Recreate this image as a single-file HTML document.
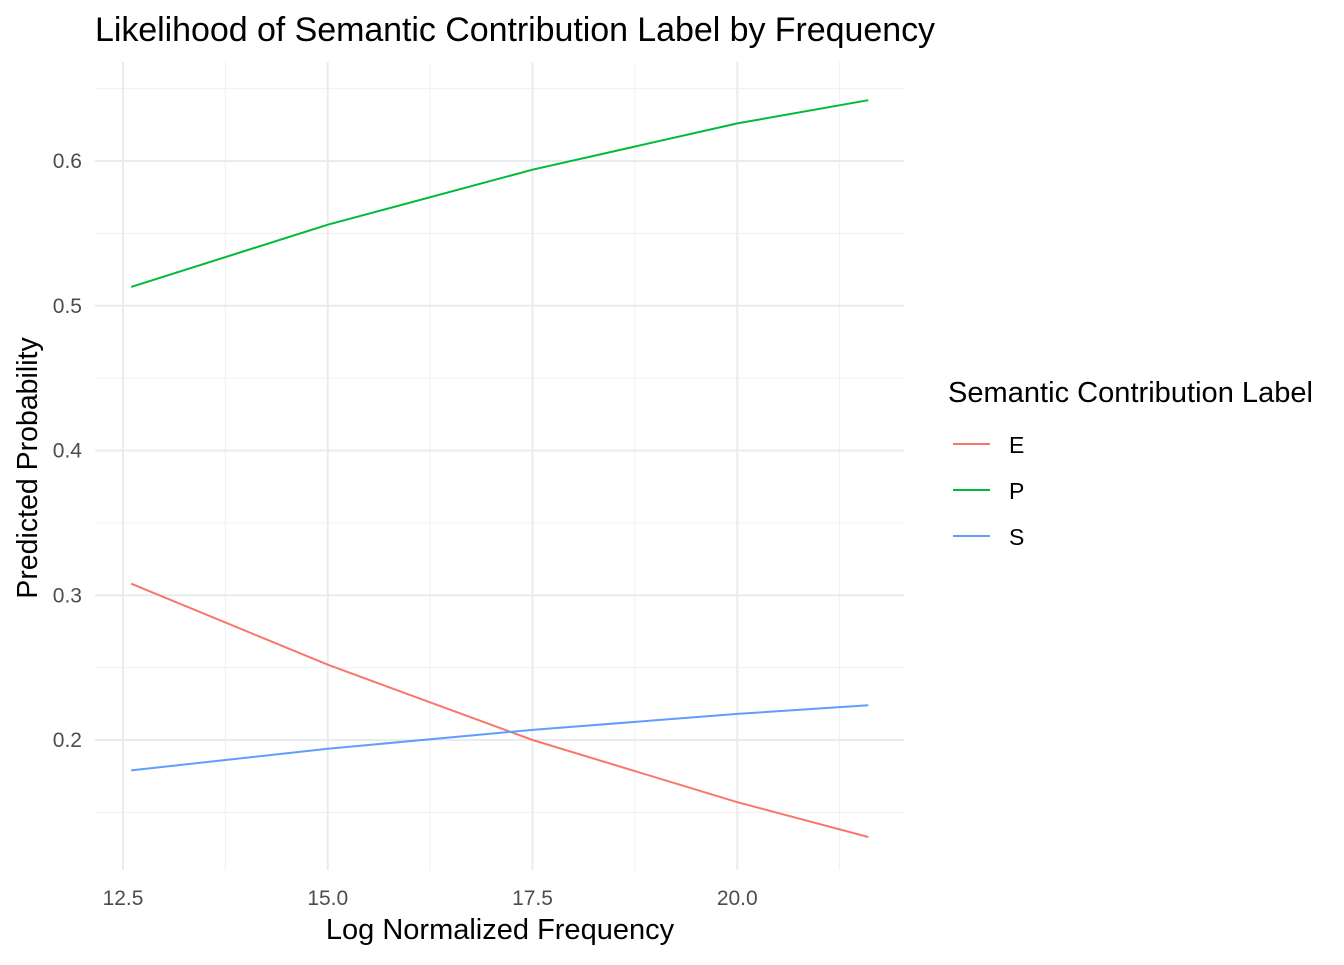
<!DOCTYPE html>
<html><head><meta charset="utf-8"><style>
body{margin:0;background:#fff;font-family:"Liberation Sans",sans-serif}
</style></head><body>
<svg width="1344" height="960" xmlns="http://www.w3.org/2000/svg" font-family="Liberation Sans, sans-serif">
<g id="grid"></g>
<g id="lines"></g>
<g id="ticks"></g>
<text x="95" y="41" font-size="34" textLength="840" fill="#000">Likelihood of Semantic Contribution Label by Frequency</text>
<text x="500" y="939" font-size="29" text-anchor="middle" fill="#000">Log Normalized Frequency</text>
<text transform="translate(37,468) rotate(-90)" font-size="28.5" text-anchor="middle" fill="#000">Predicted Probability</text>
<g>
<text x="948" y="402" font-size="29" textLength="365">Semantic Contribution Label</text>
<g id="legend"></g>
</g>
</svg>
<script>
const xs = [12.6, 15.0, 17.5, 20.0, 21.6];
const seriesNames = ['E','P','S'];
const valsE = [0.308, 0.252, 0.200, 0.157, 0.133];
const valsP = [0.513, 0.556, 0.594, 0.626, 0.642];
const valsS = [0.179, 0.194, 0.207, 0.218, 0.224];
const xTicks = [12.5, 15.0, 17.5, 20.0];
const yTicks = [0.2, 0.3, 0.4, 0.5, 0.6];
const colors = {E:'#F8766D', P:'#00BA38', S:'#619CFF'};
const NS='http://www.w3.org/2000/svg';
const X = v => 123 + (v-12.5)*81.9;
const Y = v => 161 + (0.6-v)*1447.5;
const L=95,R=904,T=62,B=870;
function mk(tag, attrs, parent){const e=document.createElementNS(NS,tag);for(const k in attrs)e.setAttribute(k,attrs[k]);parent.appendChild(e);return e;}
const grid=document.getElementById('grid');
for(let v=0.15; v<0.7; v+=0.1){const y=Y(v);if(y>T&&y<B){const l=mk('line',{x1:L,x2:R,y1:y,y2:y,stroke:'#f0f0f0','stroke-width':1},grid);}}
for(let v=13.75; v<22; v+=2.5){const x=X(v);const l=mk('line',{x1:x,x2:x,y1:T,y2:B,stroke:'#f0f0f0','stroke-width':1},grid);}
const tk=document.getElementById('ticks');
yTicks.forEach(v=>{const y=Y(v);const l=mk('line',{x1:L,x2:R,y1:y,y2:y,stroke:'#ebebeb','stroke-width':2},grid);
const t=mk('text',{x:82,y:y+7,'font-size':21,'text-anchor':'end',fill:'#4d4d4d'},tk);t.textContent=v.toFixed(1);});
xTicks.forEach(v=>{const x=X(v);const l=mk('line',{x1:x,x2:x,y1:T,y2:B,stroke:'#ebebeb','stroke-width':2},grid);
const t=mk('text',{x:x,y:905,'font-size':21,'text-anchor':'middle',fill:'#4d4d4d'},tk);t.textContent=v.toFixed(1);});
const lg=document.getElementById('lines');
const data={E:valsE,P:valsP,S:valsS};
seriesNames.forEach(s=>{const d=xs.map((x,i)=>(i?'L':'M')+X(x).toFixed(1)+','+Y(data[s][i]).toFixed(1)).join('');
const p=mk('path',{d:d,fill:'none',stroke:colors[s],'stroke-width':2},lg);});
const leg=document.getElementById('legend');
seriesNames.forEach((s,i)=>{const y=444+i*46;
const l=mk('line',{x1:953,x2:990,y1:y,y2:y,stroke:colors[s],'stroke-width':2},leg);
const t=mk('text',{x:1009,y:y+9,'font-size':23},leg);t.textContent=s;});
</script>
</body></html>
